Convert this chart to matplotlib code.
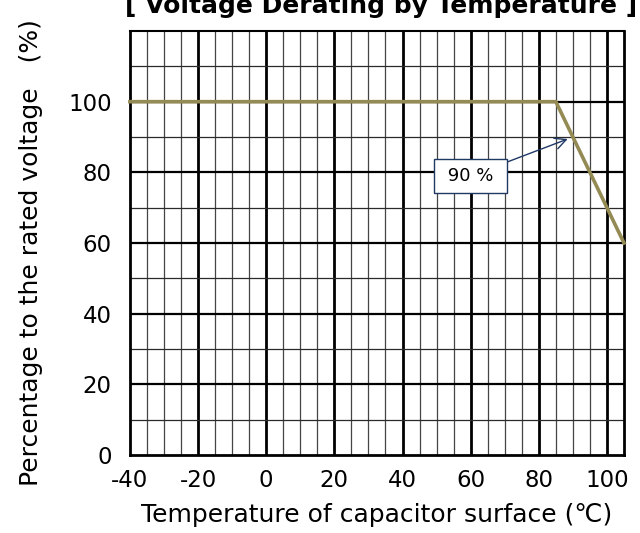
import matplotlib.pyplot as plt
import numpy as np

plt.rcParams['font.family'] = ['DejaVu Sans', 'Noto Sans CJK JP']
plt.rcParams['axes.unicode_minus'] = False

# Derating curve: rated voltage up to 85 C, then linear down to 60 % at 105 C
temperatura = [-40, 85, 105]
porcentaje = [100, 100, 60]

x_ticks = [-40, -20, 0, 20, 40, 60, 80, 100]
y_ticks = [0, 20, 40, 60, 80, 100]

fig = plt.figure(figsize=(6.4, 5.33), dpi=100)
ax = fig.add_axes([0.203, 0.1463, 0.772, 0.7955])

ax.set_xlim(-40, 105)
ax.set_ylim(0, 120)

# Fine grid every 5 C / 10 %, heavier lines every 20
for x in np.arange(-35, 105, 5):
    if x % 20 == 0:
        ax.axvline(x, color='black', lw=2.0, zorder=1)
    else:
        ax.axvline(x, color='#444444', lw=0.9, zorder=1)
for y in np.arange(10, 120, 10):
    if y % 20 == 0:
        ax.axhline(y, color='black', lw=1.6, zorder=1)
    else:
        ax.axhline(y, color='#2a2a2a', lw=0.9, zorder=1)

ax.plot(temperatura, porcentaje, color='#948A54', lw=2.6, zorder=3,
        solid_joinstyle='miter', clip_on=False)

ax.annotate(' 90 % ', xy=(90, 90), xytext=(60, 79),
            fontsize=13, ha='center', va='center', zorder=4,
            bbox=dict(boxstyle='square,pad=0.45', fc='white', ec='#1F3864', lw=1),
            arrowprops=dict(arrowstyle='->', color='#1F3864', lw=1,
                            shrinkA=0, shrinkB=4, mutation_scale=20))

for lado in ['left', 'bottom', 'right']:
    ax.spines[lado].set_linewidth(2)
ax.spines['top'].set_linewidth(1.5)

ax.set_xticks(x_ticks)
ax.set_yticks(y_ticks)
ax.tick_params(length=0, labelsize=16.5, pad=10)
ax.tick_params(axis='y', pad=13)

ax.set_xlabel('Temperature of capacitor surface (℃)', fontsize=18, labelpad=8)
ax.set_ylabel('Percentage to the rated voltage\u3000(%)', fontsize=18)
ax.yaxis.set_label_coords(-0.175, 0.478)

fig.text(0.595, 1 - 13 / 533, '[ Voltage Derating by Temperature ]', fontsize=18,
         fontweight='bold', ha='center', va='baseline')

fig.savefig('out.png', dpi=100)
